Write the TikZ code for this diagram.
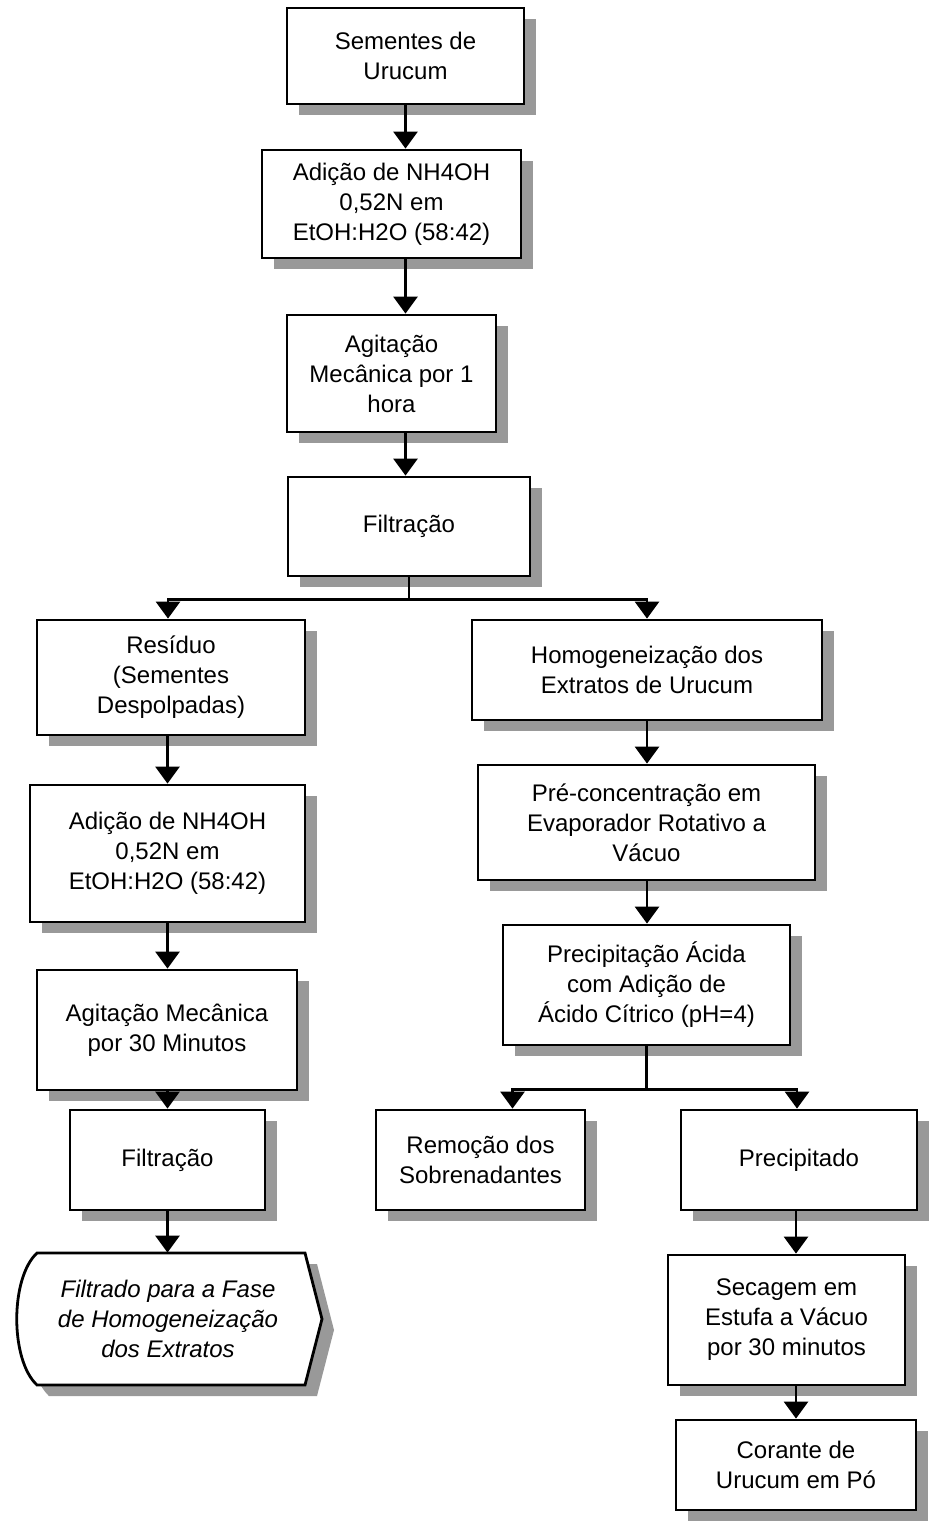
\documentclass[tikz,border=0pt]{standalone}
\usepackage{fontspec}
\setmainfont{Liberation Sans}
\usetikzlibrary{arrows.meta,shadows,calc}
\begin{document}
\begin{tikzpicture}[x=0.5pt,y=-0.5pt,
  box/.style={draw,line width=1.4pt,fill=white,rectangle,align=center,inner sep=2pt,
    font=\fontsize{12pt}{15pt}\selectfont,
    drop shadow={shadow xshift=6pt,shadow yshift=-5.5pt,fill=black!40,opacity=1}},
  arr/.style={line width=1.4pt,-{Triangle[length=8.5pt,width=12pt]}},
  ln/.style={line width=1.4pt}]
\useasboundingbox (0,0) rectangle (930,1524);
% top column
\node[box,minimum width=118.5pt,minimum height=48pt] (s1) at (405.5,56) {Sementes de\\Urucum};
\node[box,minimum width=129.5pt,minimum height=54pt] (s2) at (391.5,204) {Adição de NH4OH\\0,52N em\\EtOH:H2O (58:42)};
\node[box,minimum width=104.5pt,minimum height=58.5pt] (s3) at (391.5,373.5) {Agitação\\Mecânica por 1\\hora};
\node[box,minimum width=121pt,minimum height=49.5pt] (s4) at (409,526.5) {Filtração};
% left column
\node[box,minimum width=134pt,minimum height=57.5pt] (s5) at (171,677.5) {Resíduo\\(Sementes\\Despolpadas)};
\node[box,minimum width=137.5pt,minimum height=68.5pt] (s6) at (167.5,853.5) {Adição de NH4OH\\0,52N em\\EtOH:H2O (58:42)};
\node[box,minimum width=130pt,minimum height=60pt] (s7) at (167,1030) {Agitação Mecânica\\por 30 Minutos};
\node[box,minimum width=97.5pt,minimum height=50pt] (s8) at (167.5,1160) {Filtração};
% terminal shape
\fill[black!40] (49,1264) -- (317,1264) -- (334,1330) -- (317,1396) -- (49,1396)
  .. controls (22,1371) and (22,1289) .. cycle;
\draw[line width=1.4pt,fill=white] (37,1253) -- (305,1253) -- (322,1319) -- (305,1385) -- (37,1385)
  .. controls (10,1360) and (10,1278) .. cycle;
\node[align=center,font=\fontsize{12pt}{15pt}\selectfont\itshape,minimum height=66pt,inner sep=0pt] (s9) at (168,1319)
  {Filtrado para a Fase\\de Homogeneização\\dos Extratos};
% right column
\node[box,minimum width=175pt,minimum height=50pt] (s10) at (647,670) {Homogeneização dos\\Extratos de Urucum};
\node[box,minimum width=168.5pt,minimum height=57.5pt] (s11) at (646.5,822.5) {Pré-concentração em\\Evaporador Rotativo a\\Vácuo};
\node[box,minimum width=143.5pt,minimum height=60pt] (s12) at (646.5,985) {Precipitação Ácida\\com Adição de\\Ácido Cítrico (pH=4)};
\node[box,minimum width=104.5pt,minimum height=50pt] (s13) at (480.5,1160) {Remoção dos\\Sobrenadantes};
\node[box,minimum width=118pt,minimum height=50pt] (s14) at (799,1160) {Precipitado};
\node[box,minimum width=118.5pt,minimum height=65pt] (s15) at (786.5,1320) {Secagem em\\Estufa a Vácuo\\por 30 minutos};
\node[box,minimum width=120pt,minimum height=45pt] (s16) at (796,1465) {Corante de\\Urucum em Pó};
% connectors
\draw[arr] (s1.south) -- (s1.south |- s2.north);
\draw[arr] (s2.south -| s1.south) -- (s3.north -| s1.south);
\draw[arr] (s3.south -| s1.south) -- (s4.north -| s1.south);
\coordinate (j1) at ($(s4.south)+(0,22)$);
\draw[ln] (s4.south) -- (j1);
\draw[arr] (j1) -| ($(s5.north)+(-3,0)$);
\draw[arr] (j1) -| (s10.north);
\draw[arr] (s5.south -| s6.north) -- (s6.north);
\draw[arr] (s6.south) -- (s7.north -| s6.south);
\draw[arr] (s7.south -| s6.south) -- (s8.north -| s6.south);
\draw[arr] (s8.south -| s6.south) -- (s9.north -| s6.south);
\draw[arr] (s10.south) -- (s11.north -| s10.south);
\draw[arr] (s11.south -| s10.south) -- (s12.north -| s10.south);
\coordinate (j2) at ($(s12.south)+(0,43)$);
\draw[ln] (s12.south) -- (j2);
\draw[arr] (j2) -| ($(s13.north)+(32,0)$);
\draw[arr] (j2) -| ($(s14.north)+(-2,0)$);
\draw[arr] (s14.south -| s16.north) -- (s15.north -| s16.north);
\draw[arr] (s15.south -| s16.north) -- (s16.north);
\end{tikzpicture}
\end{document}
